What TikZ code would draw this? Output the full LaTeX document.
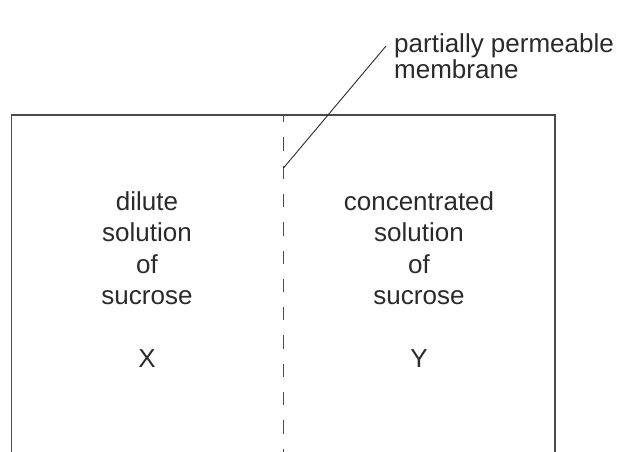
\documentclass[tikz,border=0pt]{standalone}
\usepackage{fontspec}
\setmainfont{Liberation Sans}
\definecolor{ink}{HTML}{2A2A2A}
\definecolor{edge}{HTML}{4A4A4A}
\begin{document}
\begin{tikzpicture}[x=1pt,y=-1pt,
  txt/.style={font=\fontsize{26}{31}\selectfont, text=ink, inner sep=0pt, anchor=base},
  lbl/.style={font=\fontsize{26}{31}\selectfont, text=ink, inner sep=0pt, anchor=base west},
  wall/.style={draw=edge, line width=1.3pt},
  membr/.style={draw=edge, line width=1.3pt, dash pattern=on 13.3pt off 15pt, dash phase=6pt},
  leader/.style={draw=ink, line width=0.9pt}]
\useasboundingbox (0,0) rectangle (619,452);
% container
\coordinate (bl) at (11.7,452);
\coordinate (tl) at (11.7,115);
\coordinate (tr) at (555,115);
\coordinate (br) at (555,452);
\draw[wall] (bl) -- (tl) -- (tr) -- (br);
% membrane
\coordinate (mtop) at (283.5,115);
\coordinate (mbot) at (283.5,452);
\draw[membr] (mtop) -- (mbot);
% left side text
\node[txt] (l1) at (147,210) {dilute};
\node[txt] (l2) at (147,241.5) {solution};
\node[txt] (l3) at (147,273) {of};
\node[txt] (l4) at (147,304.5) {sucrose};
\node[txt] (lx) at (147,367) {X};
% right side text
\node[txt] (r1) at (419,210) {concentrated};
\node[txt] (r2) at (419,241.5) {solution};
\node[txt] (r3) at (419,273) {of};
\node[txt] (r4) at (419,304.5) {sucrose};
\node[txt] (ry) at (419,367) {Y};
% label
\node[lbl] (pp) at (394,53) {partially permeable};
\node[lbl] (mb) at (394,78) {membrane};
\coordinate (lend) at (386,46);
\coordinate (mpt) at (283.5,168);
\draw[leader] (mpt) -- (lend);
\end{tikzpicture}
\end{document}
